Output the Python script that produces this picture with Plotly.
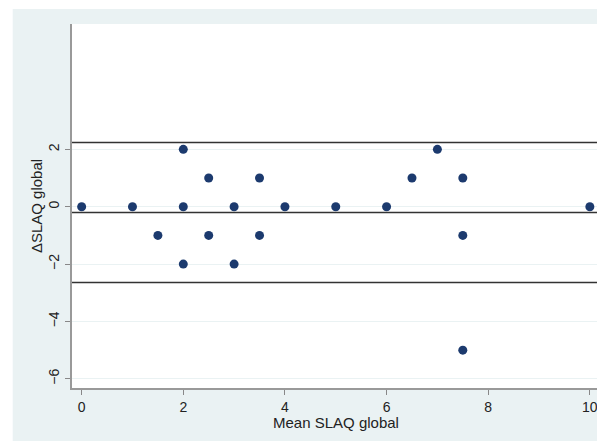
import plotly.graph_objects as go

# Data
mean_slaq = [0, 1, 1.5, 2, 2, 2, 2.5, 2.5, 3, 3, 3.5, 3.5, 4, 5, 6, 6.5, 7, 7.5, 7.5, 7.5, 10]
delta_slaq = [0, 0, -1, 2, 0, -2, 1, -1, 0, -2, 1, -1, 0, 0, 0, 1, 2, 1, -1, -5, 0]
ref_lines = [2.24, -0.2, -2.64]  # upper LoA, mean difference, lower LoA
x_ticks = [0, 2, 4, 6, 8, 10]
y_ticks = [-6, -4, -2, 0, 2]

BG = "#EAF2F3"
NAVY = "#1c3a6e"
FONT = "Liberation Sans, Arial, sans-serif"

fig = go.Figure()
fig.add_trace(go.Scatter(
    x=mean_slaq, y=delta_slaq, mode="markers",
    marker=dict(color=NAVY, size=9, line=dict(width=0)),
    showlegend=False, cliponaxis=False,
))

for v in ref_lines:
    fig.add_hline(y=v, line=dict(color="#333333", width=1.6), layer="above")

# thin white strips outside the Stata-style gray graph region
fig.add_shape(type="rect", xref="paper", yref="paper", x0=-0.3, x1=-0.1125, y0=-0.3, y1=1.3,
              fillcolor="white", line_width=0, layer="below")
fig.add_shape(type="rect", xref="paper", yref="paper", x0=-0.3, x1=1.3, y0=1.0412, y1=1.3,
              fillcolor="white", line_width=0, layer="below")

fig.update_layout(
    width=597, height=433,
    margin=dict(l=64, r=6, t=16, b=53),
    paper_bgcolor=BG, plot_bgcolor="white",
    font=dict(family=FONT, size=14, color="#222222"),
    xaxis=dict(
        range=[-0.19, 10.18], tickvals=x_ticks, ticks="outside", ticklen=5, tickwidth=1.2,
        tickcolor="#888888", showline=True, linecolor="#999999", linewidth=2,
        showgrid=False, zeroline=False, ticklabelstandoff=0,
    ),
    yaxis=dict(
        range=[-6.32, 6.37], tickvals=y_ticks, tickangle=-90, ticks="outside", ticklen=5,
        tickwidth=1.2, tickcolor="#888888", showline=True, linecolor="#999999", linewidth=2,
        showgrid=True, gridcolor=BG, gridwidth=1, zeroline=False,
        title=dict(text="ΔSLAQ global", font=dict(size=15), standoff=0),
    ),
    annotations=[dict(
        text="Mean SLAQ global", xref="paper", yref="paper", x=0.5, y=-0.094,
        xanchor="center", yanchor="middle", showarrow=False, font=dict(size=15),
    )],
)

fig.write_html("out.html")
